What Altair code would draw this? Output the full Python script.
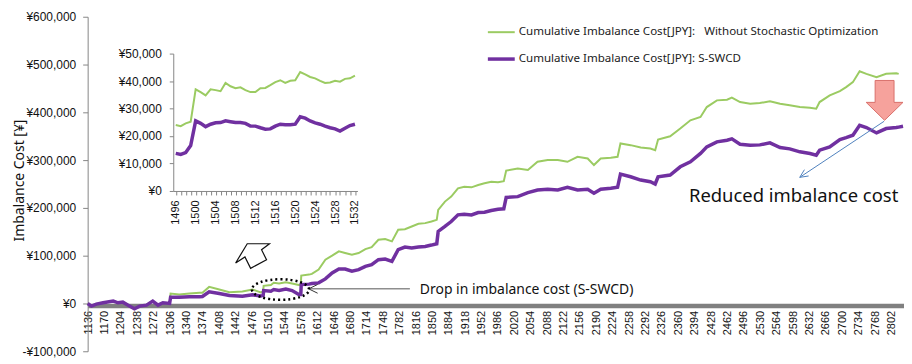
import altair as alt
import pandas as pd
import math

# ---------------- data ----------------
main_idx = [
    1135, 1143, 1153, 1167, 1188, 1198, 1208, 1219, 1232, 1243,
    1257, 1270, 1281, 1291, 1305, 1307, 1325, 1346, 1367, 1373,
    1387, 1408, 1429, 1456, 1477, 1494, 1499, 1500, 1515, 1521,
    1532, 1546, 1559, 1573, 1577, 1578, 1594, 1600, 1614, 1628,
    1642, 1656, 1669, 1683, 1697, 1711, 1724, 1738, 1752, 1766,
    1779, 1793, 1807, 1821, 1835, 1848, 1859, 1862, 1876, 1889,
    1903, 1916, 1931, 1945, 1958, 1972, 1986, 1998, 2003, 2027,
    2048, 2068, 2089, 2110, 2130, 2151, 2172, 2185, 2199, 2220,
    2234, 2240, 2261, 2282, 2302, 2312, 2318, 2343, 2364, 2385,
    2406, 2419, 2440, 2461, 2471, 2488, 2509, 2529, 2550, 2571,
    2591, 2612, 2633, 2646, 2653, 2674, 2695, 2708, 2722, 2736,
    2750, 2771, 2791, 2812, 2817, 2826,
]
main_purple = [
    0, -5500, -1400, 1400, 4900, 1400, 2800, -3500, -11000, -5500,
    -3500, 4900, -3500, 1400, 0, 13200, 13200, 13900, 13900, 14500,
    24300, 20800, 16700, 15300, 18000, 15500, 17000, 27000, 25500, 29000,
    27000, 30000, 27000, 19000, 19000, 39600, 40500, 41700, 43100, 51400,
    63900, 72200, 72200, 67600, 70800, 77700, 81200, 91700, 93000, 88200,
    112500, 118000, 116000, 118000, 119400, 122200, 125000, 150700, 161100, 171500,
    185400, 186800, 185400, 190300, 191000, 194400, 197200, 198000, 222000, 223600,
    231900, 237500, 238900, 237500, 243100, 237500, 238900, 230600, 238900, 241000,
    243100, 270800, 265200, 258300, 254900, 250000, 265200, 268700, 286000, 296500,
    313900, 327700, 338100, 341700, 344400, 333300, 331300, 331900, 336000, 326400,
    323600, 317300, 313900, 310400, 320800, 327700, 343100, 347200, 352100, 372900,
    368100, 356900, 366000, 368100, 369000, 370800,
]
main_green = [
    0, -5500, -1400, 1400, 4900, 1400, 2800, -3500, -11000, -5500,
    -3500, 4900, -3500, 1400, 0, 20800, 18700, 20800, 22200, 22500,
    34700, 29200, 23600, 25000, 29200, 23000, 25200, 37000, 38500, 43300,
    42000, 44400, 41700, 38900, 38900, 58300, 60400, 62000, 70800, 91700,
    100000, 109000, 105600, 102100, 105600, 113900, 118000, 133300, 134700, 129900,
    154200, 155500, 161100, 166700, 168100, 171500, 175000, 195800, 213200, 223600,
    241000, 244400, 243000, 247900, 251400, 254900, 253500, 256000, 278000, 282600,
    279200, 296500, 300000, 300000, 296500, 306900, 303400, 289600, 303400, 304800,
    306900, 334800, 331300, 326400, 324300, 320800, 343100, 350000, 366000, 383300,
    390200, 411000, 425000, 426400, 430600, 421500, 418100, 419500, 422900, 418100,
    414600, 411000, 409700, 407700, 421500, 435400, 444400, 452700, 463100, 486000,
    480500, 473600, 480500, 481900, 480500, None,
]

inset_idx = list(range(1496, 1533))
inset_green = [
    24000, 23600, 24600, 25200, 37000, 36000, 34800, 37000, 36700, 36300,
    39300, 38100, 37400, 37700, 36700, 36000, 36000, 37400, 37500, 38500,
    39600, 40300, 39300, 40100, 40300, 43300, 42400, 41500, 41000, 40100,
    39300, 39500, 40100, 39800, 40800, 41000, 42000,
]
inset_purple = [
    13700, 13300, 14000, 16500, 25500, 24600, 23400, 24300, 24800, 24900,
    25500, 25200, 24900, 24900, 24600, 23600, 23600, 23000, 22500, 22600,
    23600, 24300, 24100, 24100, 24300, 27000, 26500, 25500, 24800, 24300,
    23600, 23000, 22600, 21800, 22800, 23800, 24300,
]

main_ticks = list(range(1136, 2803, 34))
main_yticks = [-100000, 0, 100000, 200000, 300000, 400000, 500000, 600000]
inset_ticks = list(range(1496, 1533))
inset_yticks = [0, 10000, 20000, 30000, 40000, 50000]

S_G = "Cumulative Imbalance Cost[JPY]:\u00a0\u00a0\u00a0Without Stochastic Optimization"
S_P = "Cumulative Imbalance Cost[JPY]: S-SWCD"
series_names = [S_G, S_P]
series_colors = ["#9BCB62", "#7030A0"]

# ---------------- frames ----------------
main_df = pd.DataFrame({"idx": main_idx, S_G: main_green, S_P: main_purple})
main_long = main_df.melt("idx", var_name="series", value_name="cost").dropna()
inset_df = pd.DataFrame({"idx": inset_idx, S_G: inset_green, S_P: inset_purple})
inset_long = inset_df.melt("idx", var_name="series", value_name="cost")

W, H = 820, 336
FONT = "Liberation Sans"
TFONT = "Noto Sans"

color_scale = alt.Scale(domain=series_names, range=series_colors)
sw_scale = alt.Scale(domain=series_names, range=[2, 3.5])
legend = alt.Legend(
    orient="none", legendX=400, legendY=1, title=None,
    symbolType="stroke", symbolSize=729, labelFontSize=11.6, labelFont=TFONT,
    labelColor="#222222", labelLimit=600, padding=0, rowPadding=5, labelOffset=2,
)

yen_expr = "(datum.value < 0 ? '-\u00a5' : '\u00a5') + format(abs(datum.value), ',')"

x_main = alt.X(
    "idx:Q",
    scale=alt.Scale(domain=[1135, 2828], nice=False, zero=False),
    axis=alt.Axis(
        values=main_ticks, format="d", labelAngle=-90, labelFontSize=11, labelFont=FONT,
        labelPadding=5, ticks=False, domainColor="#808080", domainWidth=4.5,
        offset=-46, title=None, labelOverlap=False, labelColor="#111111", orient="bottom",
    ),
)
y_main = alt.Y(
    "cost:Q",
    scale=alt.Scale(domain=[-100000, 600000], nice=False, zero=False),
    axis=alt.Axis(
        values=main_yticks, labelExpr=yen_expr, labelFontSize=12, labelFont=FONT,
        labelColor="#111111", tickSize=5, tickColor="#868686", domainColor="#868686",
        labelPadding=7, title="Imbalance Cost [\u00a5]", titleFont=TFONT, titleFontSize=14,
        titleFontWeight="normal", titleColor="#111111", titleX=-64, titleY=164,
        titleAngle=-90, titleAlign="center", titleBaseline="alphabetic", orient="left",
    ),
)

def main_line(name):
    return alt.Chart(main_long[main_long.series == name]).mark_line().encode(
        x=x_main, y=y_main,
        color=alt.Color("series:N", scale=color_scale, legend=legend),
        strokeWidth=alt.StrokeWidth("series:N", scale=sw_scale, legend=legend),
    )

main = alt.layer(main_line(S_G), main_line(S_P))

x_inset = alt.X(
    "idx:Q",
    scale=alt.Scale(domain=[1495.5, 1532.5], range=[86, 271], nice=False, zero=False),
    axis=alt.Axis(
        values=inset_ticks, labelExpr="(datum.value - 1496) % 4 == 0 ? datum.value : ''",
        labelAngle=-90, labelFontSize=11, labelFont=FONT, labelColor="#111111",
        tickSize=4, tickColor="#868686", domainColor="#868686", labelPadding=5,
        offset=-161, title=None, labelOverlap=False, orient="bottom",
    ),
)
y_inset = alt.Y(
    "cost:Q",
    scale=alt.Scale(domain=[0, 50000], range=[175, 37], nice=False, zero=False),
    axis=alt.Axis(
        values=inset_yticks, labelExpr="'\u00a5' + format(datum.value, ',')",
        labelFontSize=12, labelFont=FONT, labelColor="#111111", tickSize=4,
        tickColor="#868686", domainColor="#868686", labelPadding=8, offset=-86,
        title=None, orient="left",
    ),
)
inset = alt.Chart(inset_long).mark_line().encode(
    x=x_inset, y=y_inset,
    color=alt.Color("series:N", scale=color_scale, legend=legend),
    strokeWidth=alt.StrokeWidth("series:N", scale=sw_scale, legend=legend),
)

# ---------------- annotations ----------------
one = pd.DataFrame({"t": [""]})

def text(txt, x, y, size, color="#111111"):
    return alt.Chart(pd.DataFrame({"t": [txt]})).mark_text(
        align="left", baseline="middle", fontSize=size, font=TFONT, color=color
    ).encode(x=alt.value(x), y=alt.value(y), text="t:N")

def rule(x1, y1, x2, y2, color, w=1.0):
    return alt.Chart(one).mark_rule(color=color, strokeWidth=w).encode(
        x=alt.value(x1), y=alt.value(y1), x2=alt.value(x2), y2=alt.value(y2)
    )

def arrowhead(tx, ty, fx, fy, color, length=10, spread=26, w=1.0):
    ang = math.atan2(fy - ty, fx - tx)
    out = []
    for s in (-1, 1):
        a = ang + s * math.radians(spread)
        out.append(rule(tx, ty, tx + length * math.cos(a), ty + length * math.sin(a), color, w))
    return out

red_arrow_path = "M-0.475,-1 L0.475,-1 L0.475,0.1 L0.925,0.1 L0,1 L-0.925,0.1 L-0.475,0.1 Z"
white_arrow_path = "M-1.02,0.43 L-0.335,-0.705 L0.98,-0.705 L0.51,-0.35 L0.805,0.235 L-0.135,0.75 L-0.47,0.075 Z"
ellipse_path = "M-1,0 A1,0.36 0 1,0 1,0 A1,0.36 0 1,0 -1,0 Z"

red_arrow = alt.Chart(one).mark_point(
    shape=red_arrow_path, size=1600, filled=True, fill="#F6A29C", fillOpacity=1,
    stroke="#D9706B", strokeWidth=1, opacity=1,
).encode(x=alt.value(800.5), y=alt.value(84))

white_arrow = alt.Chart(one).mark_point(
    shape=white_arrow_path, size=1156, filled=True, fill="white", fillOpacity=1,
    stroke="#111111", strokeWidth=1.2, opacity=1,
).encode(x=alt.value(166), y=alt.value(240))

ellipse = alt.Chart(one).mark_point(
    shape=ellipse_path, size=3295, filled=False, stroke="#000000", strokeWidth=2.5,
    strokeDash=[2, 3], opacity=1,
).encode(x=alt.value(193.7), y=alt.value(274))

anns = [
    rule(800, 105, 715.3, 161.3, "#4F81BD", 1.0),
    *arrowhead(715.3, 161.3, 800, 105, "#4F81BD", 9, 25, 1.0),
    red_arrow,
    rule(323.7, 273.3, 222, 273.3, "#555555", 1.0),
    *arrowhead(222, 273.3, 323.7, 273.3, "#333333", 10, 26, 1.0),
    ellipse,
    white_arrow,
    text("Reduced imbalance cost", 604, 180, 18.5),
    text("Drop in imbalance cost (S-SWCD)", 333.7, 274, 14),
]

chart = alt.layer(main, inset, *anns).resolve_scale(
    x="independent", y="independent"
).properties(
    width=W, height=H,
    padding={"left": 80, "top": 8, "right": 0, "bottom": 10},
    autosize=alt.AutoSizeParams(type="none"),
).configure_view(stroke=None).configure_axis(grid=False)

chart.save("out.html", embed_options={"renderer": "svg", "actions": False})
